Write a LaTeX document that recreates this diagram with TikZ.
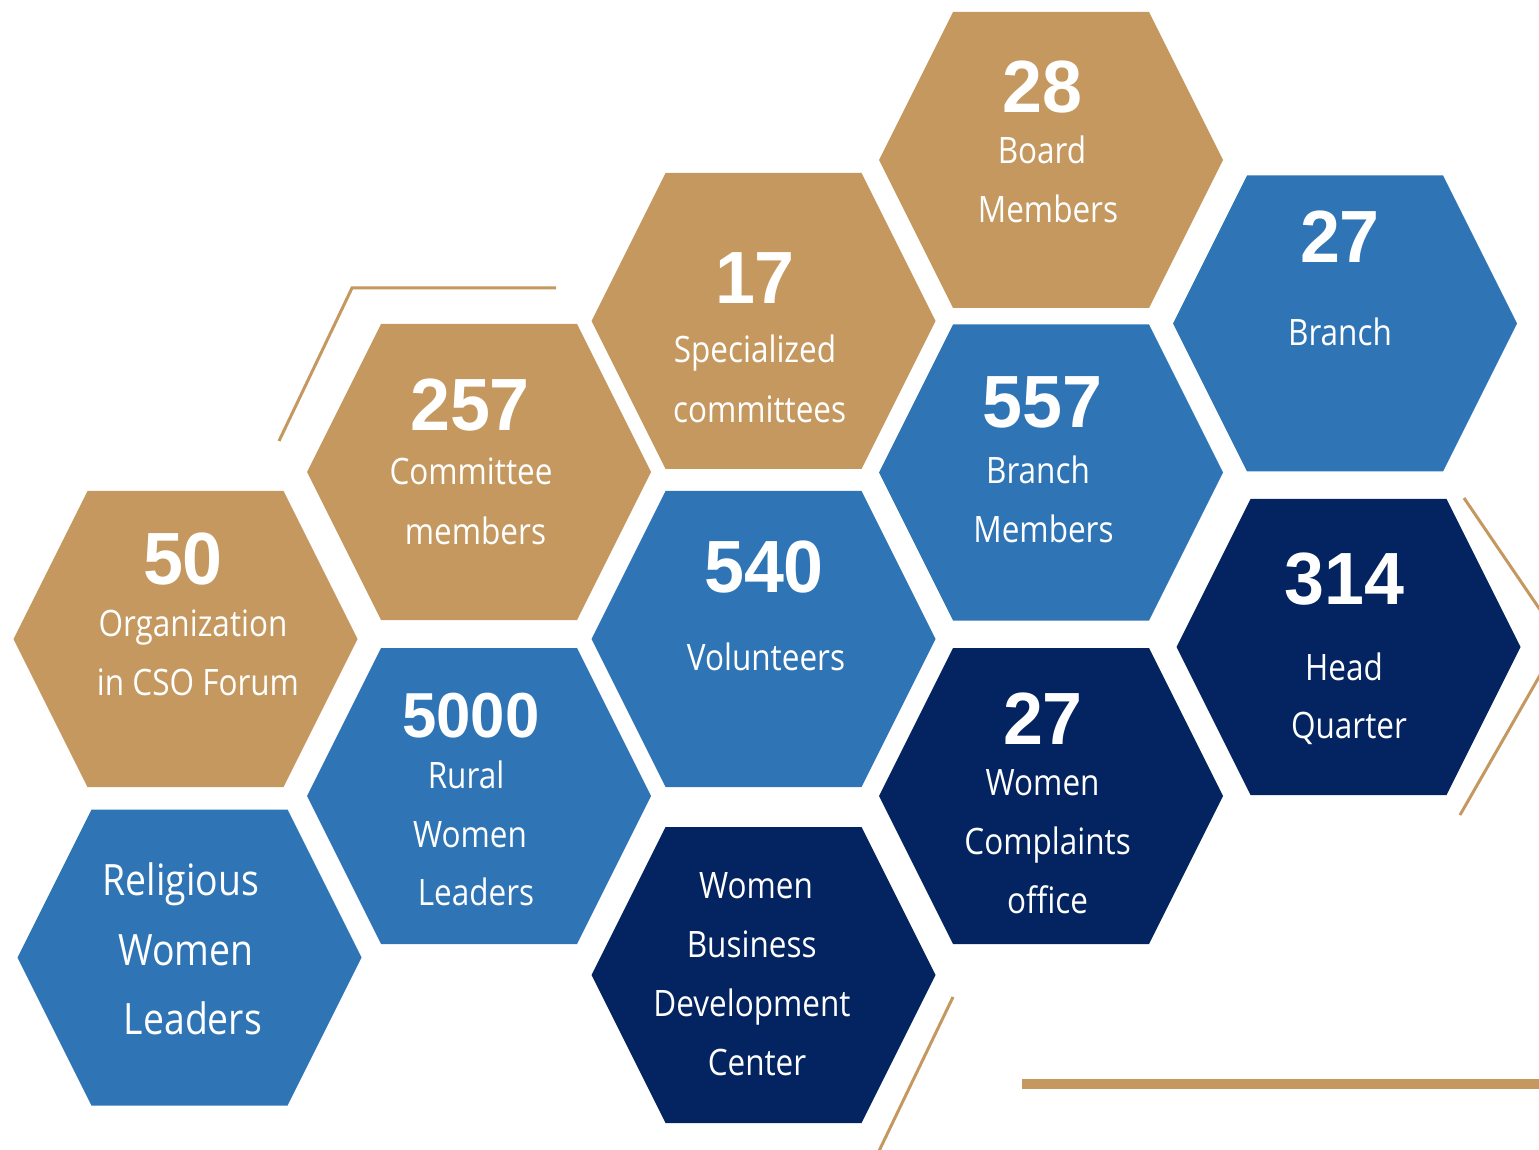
\documentclass[tikz,border=0pt]{standalone}
\usepackage{fontspec}
\newfontfamily\labfont{Open Sans}[FakeStretch=0.865]
\newfontfamily\numfont{Liberation Sans}[FakeStretch=0.97]
\definecolor{hgold}{RGB}{196,152,94}
\definecolor{hblue}{RGB}{47,117,181}
\definecolor{hnavy}{RGB}{3,36,96}
\tikzset{
  num/.style={text=white, anchor=base, inner sep=0pt, font=\numfont\bfseries\fontsize{37}{40}\selectfont},
  numsm/.style={num, font=\numfont\bfseries\fontsize{31.8}{34}\selectfont},
  lab/.style={text=white, anchor=base, inner sep=0pt, font=\labfont\fontsize{18.2}{20}\selectfont},
  labbig/.style={lab, font=\labfont\fontsize{21.6}{24}\selectfont},
  goldline/.style={draw=hgold, line width=1.5pt},
  goldbar/.style={draw=hgold, line width=5pt},
}
\newcommand\hexcell[3]{\fill[#1] (#2-172,#3) -- (#2-98,#3-148) -- (#2+98,#3-148) -- (#2+172,#3) -- (#2+98,#3+148) -- (#2-98,#3+148) -- cycle;}
\begin{document}
\begin{tikzpicture}[x=0.5pt,y=-0.5pt]
\useasboundingbox (0,0) rectangle (1539,1150);

% hexagons
\hexcell{hgold}{185.5}{639}
\hexcell{hblue}{189.5}{957.5}
\hexcell{hgold}{479}{472}
\hexcell{hblue}{479}{796}
\hexcell{hgold}{763.5}{321}
\hexcell{hblue}{763.5}{639}
\hexcell{hnavy}{763.5}{975}
\hexcell{hgold}{1051}{160}
\hexcell{hblue}{1051}{472.5}
\hexcell{hnavy}{1051}{796}
\hexcell{hblue}{1345}{323.5}
\hexcell{hnavy}{1348.5}{647}

% decorative gold lines
\coordinate (g1a) at (279,441);
\coordinate (g1b) at (352,288);
\coordinate (g1c) at (556,288);
\draw[goldline, line join=miter] (g1a) -- (g1b) -- (g1c);
\coordinate (g2a) at (1464,498);
\coordinate (g2b) at (1545,617);
\draw[goldline] (g2a) -- (g2b);
\coordinate (g3a) at (1545,666.5);
\coordinate (g3b) at (1460,815);
\draw[goldline] (g3a) -- (g3b);
\coordinate (g4a) at (953,997);
\coordinate (g4b) at (876.6,1156);
\draw[goldline] (g4a) -- (g4b);
\coordinate (g5a) at (1022,1084);
\coordinate (g5b) at (1545,1084);
\draw[goldbar] (g5a) -- (g5b);

% texts
\node[num] (n50) at (183,585) {50};
\node[lab] (l50a) at (193,637) {Organization};
\node[lab] (l50b) at (198,695) {in CSO Forum};

\node[num] (n257) at (470,430.6) {257};
\node[lab] (l257a) at (471,485) {Committee};
\node[lab] (l257b) at (475.5,544.5) {members};

\node[num] (n17) at (755,304) {17};
\node[lab] (l17a) at (755,363) {Specialized};
\node[lab] (l17b) at (759.6,423) {committees};

\node[num] (n28) at (1042.5,112.7) {28};
\node[lab] (l28a) at (1042,164) {Board};
\node[lab] (l28b) at (1048,222.7) {Members};

\node[num] (nbr) at (1340,263) {27};
\node[lab] (lbr) at (1340,346) {Branch};

\node[num] (n557) at (1042.5,428) {557};
\node[lab] (l557a) at (1038,484) {Branch};
\node[lab] (l557b) at (1043.5,543) {Members};

\node[num] (n540) at (764,592.8) {540};
\node[lab] (l540) at (766,670.7) {Volunteers};

\node[num] (n314) at (1344.5,604) {314};
\node[lab] (l314a) at (1344,680) {Head};
\node[lab] (l314b) at (1349,738) {Quarter};

\node[numsm] (n5000) at (471,737) {5000};
\node[lab] (l5000a) at (466,788) {Rural};
\node[lab] (l5000b) at (470,847) {Women};
\node[lab] (l5000c) at (476,905.7) {Leaders};

\node[num] (nwc) at (1043,744) {27};
\node[lab] (lwca) at (1042.6,795.6) {Women};
\node[lab] (lwcb) at (1047.6,854.6) {Complaints};
\node[lab] (lwcc) at (1047.6,913.5) {office};

\node[labbig] (lrela) at (181,895) {Religious};
\node[labbig] (lrelb) at (186,965) {Women};
\node[labbig] (lrelc) at (193,1034) {Leaders};

\node[lab] (lwba) at (756,898.8) {Women};
\node[lab] (lwbb) at (751.7,957.7) {Business};
\node[lab] (lwbc) at (752,1016.6) {Development};
\node[lab] (lwbd) at (757,1075.5) {Center};
\end{tikzpicture}
\end{document}
